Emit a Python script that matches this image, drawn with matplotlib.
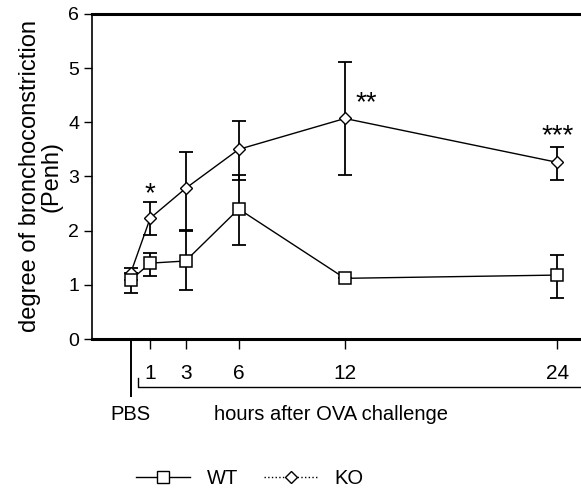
import matplotlib
matplotlib.use("Agg")
import matplotlib.pyplot as plt
from matplotlib.lines import Line2D

plt.rcParams['font.family'] = ['Liberation Sans', 'DejaVu Sans']

# data
hours = [-0.1, 1, 3, 6, 12, 24]
tick_hours = [1, 3, 6, 12, 24]
tick_labels = ['1', '3', '6', '12', '24']
wt_mean = [1.09, 1.40, 1.44, 2.40, 1.12, 1.18]
wt_up = [0.0, 0.19, 0.56, 0.63, 0.0, 0.37]
wt_down = [0.24, 0.24, 0.54, 0.66, 0.0, 0.43]
ko_mean = [1.22, 2.23, 2.78, 3.50, 4.07, 3.26]
ko_up = [0.09, 0.29, 0.67, 0.52, 1.04, 0.29]
ko_down = [0.0, 0.31, 0.76, 0.56, 1.04, 0.32]
stars = {1: '*', 12: '**', 24: '***'}

fig = plt.figure(figsize=(5.81, 4.96), dpi=100)
ax = fig.add_axes([0.158, 0.3165, 0.85, 0.6555])

ax.errorbar(hours, ko_mean, yerr=[ko_down, ko_up], fmt='none', ecolor='black',
            elinewidth=1.3, capsize=5, capthick=1.3, zorder=2)
ax.errorbar(hours, wt_mean, yerr=[wt_down, wt_up], fmt='none', ecolor='black',
            elinewidth=1.3, capsize=5, capthick=1.3, zorder=2)
ax.plot(hours, ko_mean, color='black', lw=1.0, marker='D', ms=6, mfc='white',
        mec='black', mew=1.0, zorder=3)
ax.plot(hours, wt_mean, color='black', lw=1.0, marker='s', ms=8, mfc='white',
        mec='black', mew=1.1, zorder=4)

# significance marks
star_pos = {1: (1, 2.68), 12: (13.2, 4.35), 24: (24, 3.75)}
for h, s in stars.items():
    x, y = star_pos[h]
    ax.text(x, y, s, ha='center', va='center', fontsize=20)

ax.set_xlim(-2.3, 25.6)
ax.set_ylim(0, 6)
ax.set_yticks(range(0, 7))
ax.tick_params(axis='y', labelsize=14, length=6, width=1, direction='out', pad=3)
ax.set_xticks(tick_hours)
ax.set_xticklabels(tick_labels)
ax.tick_params(axis='x', labelsize=15, length=7, width=1, direction='out', pad=11)
ax.set_xticks([hours[0]], minor=True)
ax.tick_params(axis='x', which='minor', length=42, width=1.4, direction='out')

ax.spines['top'].set_linewidth(2.2)
ax.spines['bottom'].set_linewidth(2.2)
ax.spines['left'].set_linewidth(1.2)
ax.spines['right'].set_visible(False)

ax.set_ylabel('degree of bronchoconstriction\n(Penh)', fontsize=17, linespacing=1.0, labelpad=4)

# bracket under hour labels
trans = ax.get_xaxis_transform()
yb = -0.148
ax.plot([0.3, 0.3, 25.5, 25.5], [yb + 0.027, yb, yb, yb + 0.027], color='black', lw=1.0,
        transform=trans, clip_on=False)
ax.text(hours[0], -0.232, 'PBS', transform=trans, ha='center', va='center', fontsize=14.5)
ax.text(11.2, -0.232, 'hours after OVA challenge', transform=trans, ha='center', va='center', fontsize=14.5)

# legend
handles = [Line2D([], [], color='black', lw=1.0, marker='s', ms=8, mfc='white', mec='black'),
           Line2D([], [], color='black', lw=1.0, ls=':', marker='D', ms=6, mfc='white', mec='black')]
fig.legend(handles, ['WT', 'KO'], loc='center', bbox_to_anchor=(0.43, 0.036), ncol=2,
           frameon=False, fontsize=14.5, handlelength=2.7, handletextpad=0.8, columnspacing=1.3)

fig.savefig('out.png', dpi=100)
